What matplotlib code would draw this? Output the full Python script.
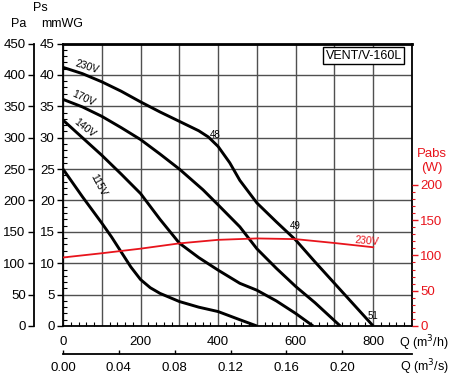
import matplotlib
matplotlib.use("Agg")
import matplotlib.pyplot as plt
from matplotlib.ticker import MultipleLocator, FuncFormatter, FixedLocator

plt.rcParams['font.family'] = ['Liberation Sans', 'DejaVu Sans']

# Fan curves: Q (m3/h) vs static pressure (mmWG)
q_230 = [0, 50, 100, 150, 200, 250, 300, 350, 375, 400, 430, 456, 500, 550, 600, 650, 700, 750, 800]
p_230 = [41.2, 40.2, 38.9, 37.4, 35.7, 34.1, 32.6, 31.1, 30.1, 28.6, 26.0, 23.2, 19.6, 16.6, 13.7, 10.2, 6.8, 3.4, 0]
q_170 = [0, 50, 100, 150, 200, 250, 300, 361, 400, 456, 500, 550, 600, 650, 715]
p_170 = [36.1, 34.9, 33.4, 31.6, 29.7, 27.4, 25.0, 21.7, 19.3, 15.8, 12.3, 9.2, 6.3, 3.7, 0]
q_140 = [0, 50, 100, 150, 200, 250, 300, 350, 400, 456, 500, 550, 600, 645]
p_140 = [32.8, 30.0, 27.2, 24.2, 21.1, 17.0, 13.2, 10.9, 8.9, 6.8, 5.7, 4.0, 2.0, 0]
q_115 = [0, 50, 100, 125, 150, 175, 200, 225, 250, 300, 350, 400, 456, 500]
p_115 = [25.0, 20.6, 16.4, 14.2, 11.8, 9.4, 7.4, 6.1, 5.2, 3.9, 3.0, 2.3, 1.0, 0]
# Absorbed power at 230V (W)
q_pw = [0, 100, 200, 300, 400, 500, 600, 700, 800]
w_pw = [97, 103, 109.5, 117, 122, 124, 123, 117.5, 111.5]

x_labels = [0, 200, 400, 600, 800]
qs_ticks = [0.00, 0.04, 0.08, 0.12, 0.16, 0.20]

fig = plt.figure(figsize=(4.5, 3.78), dpi=100)
L, R, B, T = 63/450, 412/450, 1-326/378, 1-43.5/378
ax = fig.add_axes([L, B, R-L, T-B])
ax.set_xlim(0, 900)
ax.set_ylim(0, 45)

grid_c = '#505050'
ax.xaxis.set_major_locator(MultipleLocator(100))
ax.xaxis.set_minor_locator(MultipleLocator(20))
ax.yaxis.set_major_locator(MultipleLocator(5))
ax.yaxis.set_minor_locator(MultipleLocator(1))
ax.grid(True, which='major', color=grid_c, lw=1.0)
ax.xaxis.set_major_formatter(FuncFormatter(lambda v, p: f"{int(v)}" if int(round(v)) in x_labels else ""))
ax.tick_params(axis='x', which='major', length=0, pad=7, labelsize=9.5)
ax.tick_params(axis='x', which='minor', direction='in', length=3, width=0.8)
ax.tick_params(axis='y', which='major', direction='out', length=4, width=1, labelsize=9.5, pad=2)
ax.tick_params(axis='y', which='minor', direction='in', length=3, width=0.8)
ax.spines['top'].set_linewidth(2)
ax.spines['left'].set_linewidth(1.3)
ax.spines['bottom'].set_linewidth(1.3)
ax.spines['right'].set_linewidth(1.3)

lw = 2.1
for qq, pp in [(q_230, p_230), (q_170, p_170), (q_140, p_140), (q_115, p_115)]:
    ax.plot(qq, pp, color='black', lw=lw, solid_capstyle='butt', solid_joinstyle='round', zorder=5)

# Pa secondary axis
sec = ax.secondary_yaxis(-(63-34)/349, functions=(lambda v: v*10, lambda v: v/10))
sec.yaxis.set_major_locator(MultipleLocator(50))
sec.tick_params(axis='y', direction='out', length=4, width=1, labelsize=9.5, pad=2)
sec.spines['left'].set_linewidth(1.3)

# Power axis
ax2 = ax.twinx()
ax2.set_ylim(0, 400)
ax2.plot(q_pw, w_pw, color='#e8141c', lw=1.3, zorder=6)
ax2.yaxis.set_major_locator(FixedLocator([0, 50, 100, 150, 200]))
ax2.yaxis.set_minor_locator(FixedLocator(list(range(0, 201, 10))))
ax2.tick_params(axis='y', which='major', direction='out', length=4, width=1,
                colors='#e8141c', labelsize=9.5, pad=2)
ax2.tick_params(axis='y', which='minor', direction='out', length=2.5, width=0.8, colors='#e8141c')
for s in ax2.spines.values():
    s.set_visible(False)

# m3/s secondary axis
secx = ax.secondary_xaxis(-(354-326)/282.5, functions=(lambda q: q/3600, lambda s: s*3600))
secx.xaxis.set_major_locator(FixedLocator(qs_ticks))
secx.xaxis.set_major_formatter(FuncFormatter(lambda v, p: f"{v:.2f}"))
secx.tick_params(axis='x', direction='in', length=3, width=1, labelsize=9.5, pad=6)
secx.spines['bottom'].set_linewidth(1.3)

# Curve labels
ax.text(62, 41.3, "230V", rotation=-18, fontsize=7.5, ha='center', va='center', zorder=7)
ax.text(52, 36.2, "170V", rotation=-25, fontsize=7.5, ha='center', va='center', zorder=7)
ax.text(55, 31.6, "140V", rotation=-38, fontsize=7.5, ha='center', va='center', zorder=7)
ax.text(90, 22.4, "115V", rotation=-62, fontsize=7.5, ha='center', va='center', zorder=7)
ax.text(392, 30.5, "48", fontsize=7, ha='center', va='center', zorder=7)
ax.text(598, 15.9, "49", fontsize=7, ha='center', va='center', zorder=7)
ax.text(800, 1.6, "51", fontsize=7, ha='center', va='center', zorder=7)
ax.text(784, 13.6, "230V", rotation=-5, fontsize=7.5, color='#e8141c', ha='center', va='center', zorder=7)

ax.text(0.862, 0.957, "VENT/V-160L", transform=ax.transAxes, fontsize=9, ha='center', va='center',
        bbox=dict(boxstyle='square,pad=0.2', fc='white', ec='black', lw=1), zorder=8)

# Axis titles
fig.text(19/450, 1-24/378, "Pa", fontsize=9, ha='center', va='center')
fig.text(40/450, 1-8/378, "Ps", fontsize=9, ha='center', va='center')
fig.text(62/450, 1-24/378, "mmWG", fontsize=9, ha='center', va='center')
fig.text(432/450, 1-154/378, "Pabs", fontsize=9.5, color='#e8141c', ha='center', va='center')
fig.text(432/450, 1-168/378, "(W)", fontsize=9.5, color='#e8141c', ha='center', va='center')
fig.text(424/450, 1-343/378, "Q (m$^3$/h)", fontsize=9, ha='center', va='center')
fig.text(424/450, 1-367/378, "Q (m$^3$/s)", fontsize=9, ha='center', va='center')

fig.savefig("out.png", dpi=100)
